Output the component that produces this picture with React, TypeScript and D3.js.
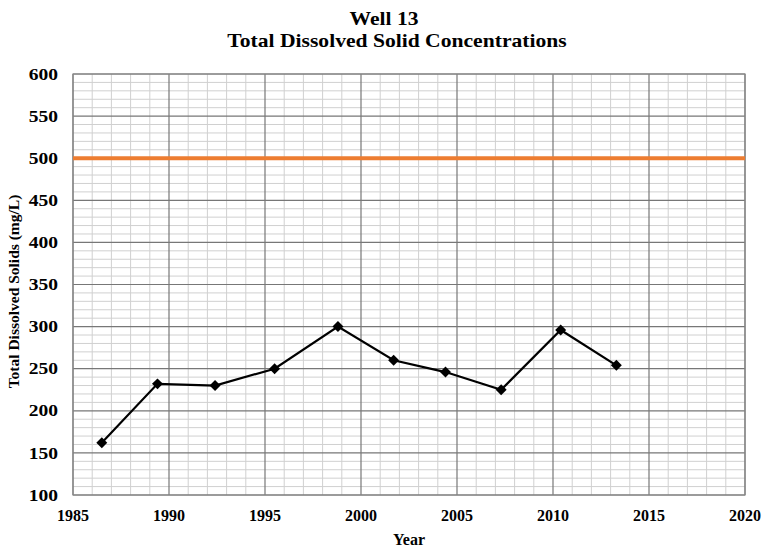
import { useRef, useEffect } from 'react';
import * as d3 from 'd3';

const years = [1986.5, 1989.4, 1992.4, 1995.5, 1998.8, 2001.7, 2004.4, 2007.3, 2010.4, 2013.3];
const tds = [162, 232, 230, 250, 300, 260, 246, 225, 296, 254];
const limitValue = 500;
const xTicks = [1985, 1990, 1995, 2000, 2005, 2010, 2015, 2020];
const yTicks = [100, 150, 200, 250, 300, 350, 400, 450, 500, 550, 600];
const titleLines = ['Well 13', 'Total Dissolved Solid Concentrations'];

const width = 763;
const height = 550;

export default function App() {
  const svgRef = useRef<SVGSVGElement | null>(null);

  useEffect(() => {
    document.body.style.margin = '0';
    if (!svgRef.current) return;
    const svg = d3.select(svgRef.current);
    svg.selectAll('*').remove();

    const margin = { top: 74, right: 18, bottom: 55, left: 73 };
    const innerWidth = width - margin.left - margin.right;
    const innerHeight = height - margin.top - margin.bottom;
    const font = '"Liberation Serif", "Times New Roman", serif';

    const x = d3.scaleLinear().domain([1985, 2020]).range([0, innerWidth]);
    const y = d3.scaleLinear().domain([100, 600]).range([innerHeight, 0]);

    const g = svg.append('g').attr('transform', `translate(${margin.left},${margin.top})`);

    // minor grid
    const minorX = d3.range(1985, 2021, 1).filter((v) => v % 5 !== 0);
    const minorY = d3.range(100, 601, 10).filter((v) => v % 50 !== 0);
    g.selectAll('.mx').data(minorX).join('line')
      .attr('x1', (d) => x(d)).attr('x2', (d) => x(d))
      .attr('y1', 0).attr('y2', innerHeight)
      .attr('stroke', '#d0d0d0').attr('stroke-width', 1);
    g.selectAll('.my').data(minorY).join('line')
      .attr('y1', (d) => y(d)).attr('y2', (d) => y(d))
      .attr('x1', 0).attr('x2', innerWidth)
      .attr('stroke', '#d0d0d0').attr('stroke-width', 1);

    // major grid
    g.selectAll('.Mx').data(xTicks).join('line')
      .attr('x1', (d) => x(d)).attr('x2', (d) => x(d))
      .attr('y1', 0).attr('y2', innerHeight)
      .attr('stroke', '#777').attr('stroke-width', 1.2);
    g.selectAll('.My').data(yTicks).join('line')
      .attr('y1', (d) => y(d)).attr('y2', (d) => y(d))
      .attr('x1', 0).attr('x2', innerWidth)
      .attr('stroke', '#777').attr('stroke-width', 1.2);

    g.append('rect')
      .attr('width', innerWidth).attr('height', innerHeight)
      .attr('fill', 'none').attr('stroke', '#888').attr('stroke-width', 1.2);

    // limit line
    g.append('line')
      .attr('x1', 0).attr('x2', innerWidth)
      .attr('y1', y(limitValue)).attr('y2', y(limitValue))
      .attr('stroke', '#ED7D31').attr('stroke-width', 4);

    // axis labels (source text looks stretched horizontally)
    g.selectAll('.yl').data(yTicks).join('text')
      .attr('transform', (d) => `translate(-15,${y(d)}) scale(1.22,1)`)
      .attr('dy', '0.35em')
      .attr('text-anchor', 'end')
      .attr('font-family', font).attr('font-weight', 'bold').attr('font-size', 16)
      .text((d) => d);
    g.selectAll('.xl').data(xTicks).join('text')
      .attr('x', (d) => x(d)).attr('y', innerHeight + 26)
      .attr('text-anchor', 'middle')
      .attr('font-family', font).attr('font-weight', 'bold').attr('font-size', 16)
      .text((d) => d);

    g.append('text')
      .attr('x', innerWidth / 2).attr('y', innerHeight + 50)
      .attr('text-anchor', 'middle')
      .attr('font-family', font).attr('font-weight', 'bold').attr('font-size', 16)
      .text('Year');

    g.append('text')
      .attr('transform', `translate(${-54},${innerHeight / 2 + 7}) rotate(-90)`)
      .attr('text-anchor', 'middle')
      .attr('font-family', font).attr('font-weight', 'bold').attr('font-size', 15.5)
      .text('Total Dissolved Solids (mg/L)');

    // title
    const titleX = [384, 397];
    svg.selectAll('.title').data(titleLines).join('text')
      .attr('transform', (_d, i) => `translate(${titleX[i]},${25 + i * 22}) scale(1.2,1)`)
      .attr('text-anchor', 'middle')
      .attr('font-family', font).attr('font-weight', 'bold').attr('font-size', 18)
      .text((d) => d);

    // series
    const pts = years.map((yr, i) => [yr, tds[i]] as [number, number]);
    const line = d3.line<[number, number]>().x((d) => x(d[0])).y((d) => y(d[1]));
    g.append('path').datum(pts)
      .attr('fill', 'none').attr('stroke', '#000').attr('stroke-width', 2.2)
      .attr('d', line);

    g.selectAll('.pt').data(pts).join('path')
      .attr('transform', (d) => `translate(${x(d[0])},${y(d[1])}) rotate(45)`)
      .attr('d', d3.symbol().type(d3.symbolSquare).size(60)() as string)
      .attr('fill', '#000');
  }, []);

  return <svg ref={svgRef} width={width} height={height} style={{ display: 'block' }} />;
}
